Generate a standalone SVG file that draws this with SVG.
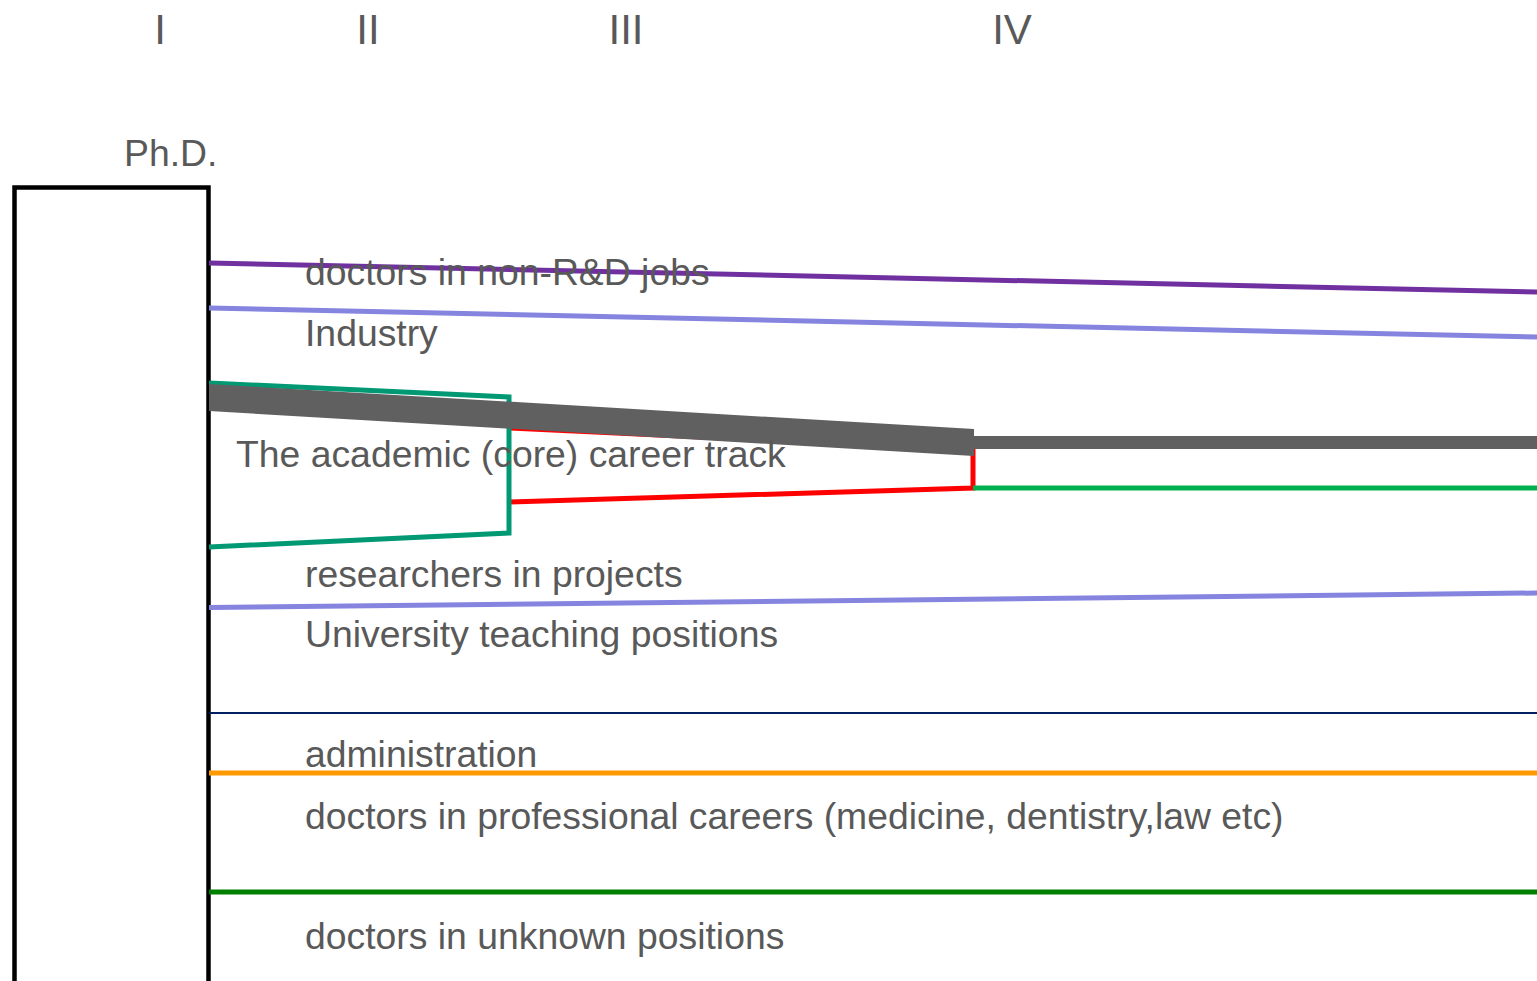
<svg xmlns="http://www.w3.org/2000/svg" width="1537" height="981" viewBox="0 0 1537 981">
<style>
.t{font-family:"Liberation Sans",Arial,sans-serif;font-size:37.35px;fill:#595959}
.n{font-family:"Liberation Sans",Arial,sans-serif;font-size:42px;fill:#595959;text-anchor:middle}
.ln{fill:none;stroke-linejoin:miter}
</style>
<rect width="1537" height="981" fill="#ffffff"/>
<g id="headers">
<text class="n" x="160" y="44">I</text>
<text class="n" x="368" y="44">II</text>
<text class="n" x="626" y="44">III</text>
<text class="n" x="1012" y="44">IV</text>
</g>
<g id="phd">
<text class="t" x="124" y="166">Ph.D.</text>
<rect x="14.5" y="187.5" width="194" height="820" fill="#ffffff" stroke="#000000" stroke-width="4.5"/>
</g>
<g id="connectors">
<polyline class="ln" points="510,428 973,450 973,488 510,502" stroke="#ff0000" stroke-width="5"/>
<line x1="973" y1="488" x2="1537" y2="488" stroke="#00b050" stroke-width="5"/>
<polyline class="ln" points="209,383 509,397 509,533 209,547" stroke="#009973" stroke-width="5"/>
<polygon points="209,384 974,429 974,456 209,411" fill="#606060"/>
<rect x="974" y="436" width="563" height="13" fill="#606060"/>
<line x1="209" y1="263" x2="1537" y2="292" stroke="#7030a0" stroke-width="5"/>
<line x1="209" y1="308" x2="1537" y2="337" stroke="#8585e0" stroke-width="5"/>
<line x1="209" y1="607.5" x2="1537" y2="593" stroke="#8585e0" stroke-width="5"/>
<line x1="209" y1="713" x2="1537" y2="713" stroke="#002060" stroke-width="2"/>
<line x1="209" y1="773" x2="1537" y2="773" stroke="#ff9900" stroke-width="5"/>
<line x1="209" y1="892" x2="1537" y2="892" stroke="#008000" stroke-width="5"/>
</g>
<g id="labels">
<text class="t" x="305" y="285">doctors in non-R&amp;D jobs</text>
<text class="t" x="305" y="346">Industry</text>
<text class="t" x="236" y="467">The academic (core) career track</text>
<text class="t" x="305" y="587">researchers in projects</text>
<text class="t" x="305" y="647">University teaching positions</text>
<text class="t" x="305" y="767">administration</text>
<text class="t" x="305" y="829">doctors in professional careers (medicine, dentistry,law etc)</text>
<text class="t" x="305" y="949">doctors in unknown positions</text>
</g>
</svg>
